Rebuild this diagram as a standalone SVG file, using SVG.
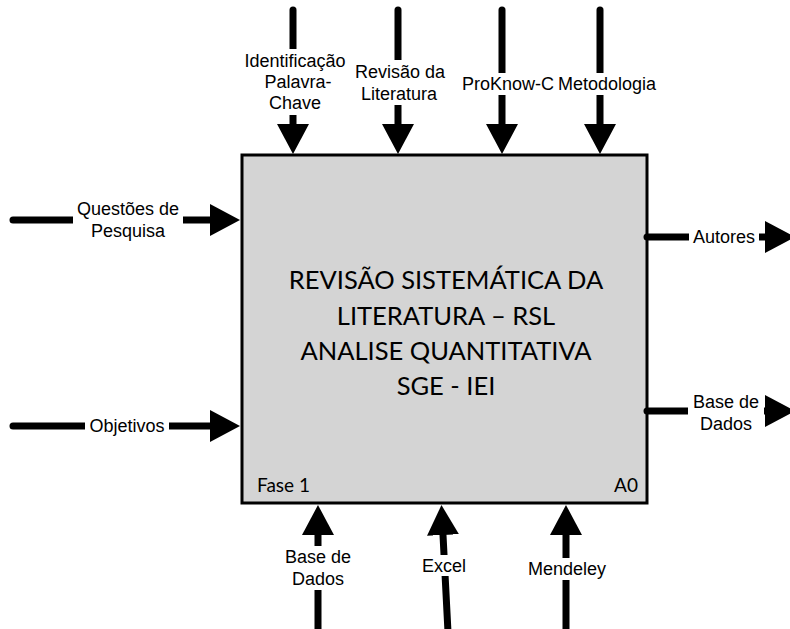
<svg xmlns="http://www.w3.org/2000/svg" width="790" height="629" viewBox="0 0 790 629">
  <style>
    .wire { stroke: #000; stroke-width: 7; stroke-linecap: round; fill: none; marker-end: url(#head); }
    .lbl { font-family: "Liberation Sans", Arial, sans-serif; font-size: 18px; fill: #000; text-anchor: middle; }
    .pad { fill: #fff; }
    .box { fill: #d4d4d4; stroke: #000; stroke-width: 3; }
    .title { font-family: Lato, "Open Sans", sans-serif; font-size: 25.5px; fill: #000; text-anchor: middle; }
    .corner { font-family: Lato, "Open Sans", sans-serif; font-size: 19px; fill: #000; }
  </style>
  <defs>
    <marker id="head" markerUnits="userSpaceOnUse" viewBox="0 -16 30 32" markerWidth="30" markerHeight="32" refX="0" refY="0" orient="auto">
      <path d="M0,-16 L30,0 L0,16 Z" fill="#000"/>
    </marker>
  </defs>
  <rect width="790" height="629" fill="#fff"/>

  <!-- activity box A0 -->
  <g id="node-a0">
    <rect class="box" x="242" y="155" width="405" height="348"/>
    <text class="title" x="446" y="289">REVISÃO SISTEMÁTICA DA</text>
    <text class="title" x="446" y="325">LITERATURA – RSL</text>
    <text class="title" x="446" y="360">ANALISE QUANTITATIVA</text>
    <text class="title" x="446" y="395">SGE - IEI</text>
    <text class="corner" x="257" y="492">Fase 1</text>
    <text class="corner" x="638" y="492" text-anchor="end">A0</text>
  </g>

  <!-- connectors: inputs (left), controls (top), outputs (right), mechanisms (bottom) -->
  <g id="connectors">
    <line class="wire" x1="293" y1="10" x2="293" y2="124"/>
    <line class="wire" x1="398" y1="10" x2="398" y2="124"/>
    <line class="wire" x1="502" y1="10" x2="502" y2="124"/>
    <line class="wire" x1="600" y1="10" x2="600" y2="124"/>
    <line class="wire" x1="13" y1="220" x2="210" y2="220"/>
    <line class="wire" x1="13" y1="426" x2="210" y2="426"/>
    <line class="wire" x1="647" y1="237" x2="765" y2="237"/>
    <line class="wire" x1="647" y1="411" x2="765" y2="411"/>
    <line class="wire" x1="318" y1="632" x2="318" y2="535"/>
    <line class="wire" x1="448" y1="632" x2="443" y2="535"/>
    <line class="wire" x1="566" y1="632" x2="566" y2="535"/>
  </g>

  <!-- connector labels -->
  <g id="label-identificacao">
    <rect class="pad" x="241" y="49" width="108" height="66"/>
    <text class="lbl" x="295" y="67">Identificação</text>
    <text class="lbl" x="298" y="88">Palavra-</text>
    <text class="lbl" x="295" y="109">Chave</text>
  </g>
  <g id="label-revisao">
    <rect class="pad" x="351" y="60" width="98" height="45"/>
    <text class="lbl" x="400" y="78">Revisão da</text>
    <text class="lbl" x="399" y="100">Literatura</text>
  </g>
  <g id="label-proknow">
    <rect class="pad" x="458" y="73" width="100" height="22"/>
    <text class="lbl" x="508" y="90">ProKnow-C</text>
  </g>
  <g id="label-metodologia">
    <rect class="pad" x="558" y="73" width="98" height="22"/>
    <text class="lbl" x="607" y="90">Metodologia</text>
  </g>
  <g id="label-questoes">
    <rect class="pad" x="73" y="200" width="110" height="44"/>
    <text class="lbl" x="128" y="215">Questões de</text>
    <text class="lbl" x="128" y="237">Pesquisa</text>
  </g>
  <g id="label-objetivos">
    <rect class="pad" x="85" y="416" width="84" height="20"/>
    <text class="lbl" x="127" y="432">Objetivos</text>
  </g>
  <g id="label-autores">
    <rect class="pad" x="689" y="227" width="70" height="20"/>
    <text class="lbl" x="724" y="243">Autores</text>
  </g>
  <g id="label-base-saida">
    <rect class="pad" x="688" y="393" width="76" height="42"/>
    <text class="lbl" x="726" y="408">Base de</text>
    <text class="lbl" x="726" y="430">Dados</text>
  </g>
  <g id="label-base-entrada">
    <rect class="pad" x="281" y="546" width="76" height="44"/>
    <text class="lbl" x="318" y="563">Base de</text>
    <text class="lbl" x="318" y="585">Dados</text>
  </g>
  <g id="label-excel">
    <rect class="pad" x="418" y="555" width="52" height="21"/>
    <text class="lbl" x="444" y="572">Excel</text>
  </g>
  <g id="label-mendeley">
    <rect class="pad" x="524" y="558" width="86" height="22"/>
    <text class="lbl" x="567" y="575">Mendeley</text>
  </g>
</svg>
